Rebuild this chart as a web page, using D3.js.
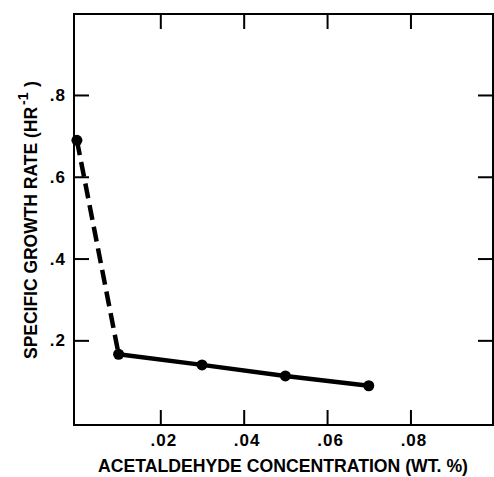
<!DOCTYPE html>
<html><head><meta charset="utf-8">
<script src="https://cdn.jsdelivr.net/npm/d3@7"></script>
<style>body{margin:0;background:#fff}svg{display:block}</style>
</head><body>
<script>
const concentration = [0, 0.01, 0.03, 0.05, 0.07];
const growthRate = [0.689, 0.166, 0.140, 0.113, 0.089];
const xTicks = [0.02, 0.04, 0.06, 0.08];
const yTicks = [0.2, 0.4, 0.6, 0.8];
const xTickLabels = [".02", ".04", ".06", ".08"];
const yTickLabels = [".2", ".4", ".6", ".8"];

const W = 494, H = 477;
const L = 74, R = 493, T = 14, B = 425;
const svg = d3.select("body").append("svg").attr("width", W).attr("height", H);
const x = d3.scaleLinear().domain([-0.0007, 0.0998]).range([L, R]);
const y = d3.scaleLinear().domain([-0.007, 0.998]).range([B, T]);
const font = "'Liberation Sans', Arial, sans-serif";
const ink = "#000";

// frame
svg.append("rect").attr("x", L).attr("y", T).attr("width", R - L).attr("height", B - T)
  .attr("fill", "none").attr("stroke", ink).attr("stroke-width", 2);

const tl = 15;
const xb = svg.append("g").attr("transform", `translate(0,${B})`)
  .call(d3.axisBottom(x).tickValues(xTicks).tickSizeInner(-tl).tickSizeOuter(0).tickPadding(9)
    .tickFormat((d, i) => xTickLabels[i]));
const xt = svg.append("g").attr("transform", `translate(0,${T})`)
  .call(d3.axisTop(x).tickValues(xTicks).tickSizeInner(-tl).tickSizeOuter(0).tickFormat(""));
const yl = svg.append("g").attr("transform", `translate(${L},0)`)
  .call(d3.axisLeft(y).tickValues(yTicks).tickSizeInner(-tl).tickSizeOuter(0).tickPadding(8)
    .tickFormat((d, i) => yTickLabels[i]));
const yr = svg.append("g").attr("transform", `translate(${R},0)`)
  .call(d3.axisRight(y).tickValues(yTicks).tickSizeInner(-tl).tickSizeOuter(0).tickFormat(""));

[xb, xt, yl, yr].forEach(g => {
  g.select(".domain").remove();
  g.selectAll(".tick line").attr("stroke", ink).attr("stroke-width", 2);
  g.selectAll(".tick text").attr("fill", ink).attr("font-family", font)
    .attr("font-weight", "bold").attr("font-size", 17).attr("letter-spacing", 1);
});
xb.selectAll(".tick text").attr("dx", 3);

// lines
const line = d3.line().x(d => x(concentration[d])).y(d => y(growthRate[d]));
svg.append("path").attr("d", line([0, 1]))
  .attr("fill", "none").attr("stroke", ink).attr("stroke-width", 4.5)
  .attr("stroke-dasharray", "15,7");
svg.append("path").attr("d", line([1, 2, 3, 4]))
  .attr("fill", "none").attr("stroke", ink).attr("stroke-width", 4.5).attr("stroke-linejoin", "round");

svg.selectAll("circle.pt").data(concentration).enter().append("circle")
  .attr("cx", d => x(d)).attr("cy", (d, i) => y(growthRate[i])).attr("r", 5.5).attr("fill", ink);

// axis labels
svg.append("text").attr("x", 98).attr("y", 472)
  .attr("font-family", font).attr("font-weight", "bold").attr("font-size", 18)
  .attr("textLength", 370).attr("lengthAdjust", "spacingAndGlyphs")
  .text("ACETALDEHYDE CONCENTRATION (WT. %)");

const yg = svg.append("g").attr("transform", "translate(37,359) rotate(-90)");
yg.append("text").attr("x", 0).attr("y", 0)
  .attr("font-family", font).attr("font-weight", "bold").attr("font-size", 18)
  .attr("textLength", 252).attr("lengthAdjust", "spacingAndGlyphs")
  .text("SPECIFIC GROWTH RATE (HR");
yg.append("text").attr("x", 254).attr("y", -9)
  .attr("font-family", font).attr("font-weight", "bold").attr("font-size", 14).text("-1");
yg.append("text").attr("x", 272).attr("y", 0)
  .attr("font-family", font).attr("font-weight", "bold").attr("font-size", 18).text(")");
</script>
</body></html>
